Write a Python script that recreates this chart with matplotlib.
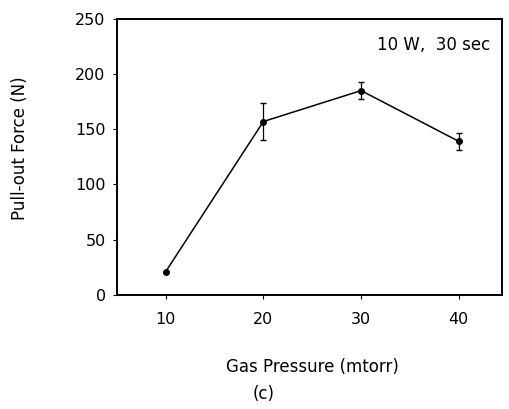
import matplotlib
matplotlib.use("Agg")
import matplotlib.pyplot as plt

# data
pressure = [10, 20, 30, 40]
force = [21, 157, 185, 139]
force_err = [0, 17, 7.5, 7.5]
yticks = [0, 50, 100, 150, 200, 250]

fig = plt.figure(figsize=(5.1, 4.09), dpi=100)
ax = fig.add_axes([0.229, 0.279, 0.755, 0.675])

ax.errorbar(pressure, force, yerr=force_err, color="black", lw=1.1,
            marker="o", markersize=4, capsize=2, elinewidth=0.9)

ax.set_xlim(5, 44.4)
ax.set_ylim(0, 250)
ax.set_xticks(pressure)
ax.set_yticks(yticks)
ax.tick_params(direction="out", length=3, width=0.8, labelsize=11.5, pad=5)
ax.tick_params(axis="x", pad=9)
for sp in ax.spines.values():
    sp.set_linewidth(1.4)

ax.set_ylabel("Pull-out Force (N)", fontsize=12, va="center")
ax.yaxis.set_label_coords(-0.252, 0.533)
ax.set_xlabel("Gas Pressure (mtorr)", fontsize=12, va="center")
ax.xaxis.set_label_coords(0.508, -0.261)
ax.text(0.97, 0.905, "10 W,  30 sec", transform=ax.transAxes, ha="right",
        va="center", fontsize=12)
fig.text(0.516, 0.036, "(c)", ha="center", va="center", fontsize=12)

fig.savefig("out.png", dpi=100)
